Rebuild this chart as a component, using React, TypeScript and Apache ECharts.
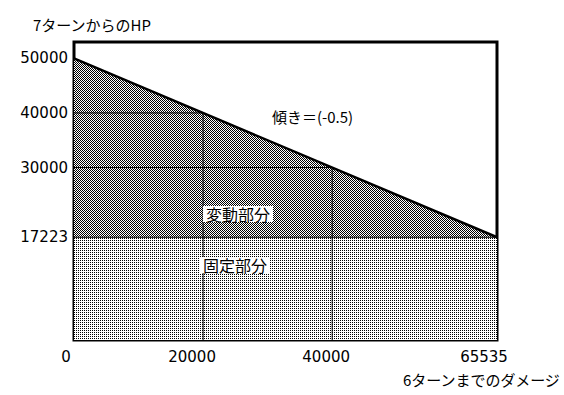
import React, { useEffect, useRef } from "react";
import * as echarts from "echarts";

const xTicks = [0, 20000, 40000, 65535];
const yTicks = [17223, 30000, 40000, 50000];
const hpLine = [
  [0, 50000],
  [65535, 17223],
];
const fixedPart = [
  [0, 17223],
  [65535, 17223],
];
const guide1 = [
  [0, 40000],
  [20000, 40000],
  [20000, -1600],
];
const guide2 = [
  [0, 30000],
  [40000, 30000],
  [40000, -1600],
];
const yMin = -1600;
const yMax = 53000;

function makePattern(dark: boolean) {
  const c = document.createElement("canvas");
  c.width = 2;
  c.height = 2;
  const ctx = c.getContext("2d")!;
  ctx.fillStyle = "#ffffff";
  ctx.fillRect(0, 0, 2, 2);
  ctx.fillStyle = "#000000";
  ctx.fillRect(0, 0, 1, 1);
  if (dark) ctx.fillRect(1, 1, 1, 1);
  return c;
}

export default function App() {
  const ref = useRef<HTMLDivElement>(null);
  useEffect(() => {
    const chart = echarts.init(ref.current!, undefined, { renderer: "svg" });
    const darkPat = { image: makePattern(true), repeat: "repeat" };
    const lightPat = { image: makePattern(false), repeat: "repeat" };
    const num = "DejaVu Sans";
    const jp = "Noto Sans CJK JP";
    const shift: Record<number, number> = { 0: 8, 20000: 11, 40000: 6, 65535: 13 };
    const rich: Record<string, any> = {
      n: { fontFamily: num, fontSize: 15, color: "#000" },
    };
    xTicks.forEach((t, i) => {
      rich[`g${i}`] = { fontFamily: num, fontSize: 15, width: 2 * shift[t] };
    });
    chart.setOption({
      animation: false,
      backgroundColor: "#ffffff",
      title: [
        {
          text: "7ターンからのHP",
          left: 28,
          top: 12,
          textStyle: { fontFamily: jp, fontSize: 15, fontWeight: "normal", color: "#000" },
        },
        {
          text: "6ターンまでのダメージ",
          left: 398,
          top: 367,
          textStyle: { fontFamily: jp, fontSize: 15, fontWeight: "normal", color: "#000" },
        },
      ],
      grid: {
        left: 74,
        top: 42,
        width: 423,
        height: 298,
        show: true,
        borderColor: "#000",
        borderWidth: 3,
        backgroundColor: "transparent",
        containLabel: false,
      },
      xAxis: {
        type: "value",
        min: 0,
        max: 65535,
        splitLine: { show: false },
        axisLine: { show: false },
        axisTick: { show: false },
        axisLabel: {
          customValues: xTicks,
          margin: 9,
          fontFamily: num,
          fontSize: 15,
          color: "#000",
          formatter: (v: number) => `{n|${String(v)}}{g${xTicks.indexOf(v)}| }`,
          rich,
        },
      },
      yAxis: {
        type: "value",
        min: yMin,
        max: yMax,
        splitLine: { show: false },
        axisLine: { show: false },
        axisTick: { show: false },
        axisLabel: {
          customValues: yTicks,
          margin: 6,
          fontFamily: num,
          fontSize: 15,
          color: "#000",
          formatter: (v: number) => String(v),
        },
      },
      series: [
        {
          type: "line",
          data: hpLine,
          symbol: "none",
          z: 1,
          lineStyle: { width: 0 },
          areaStyle: { color: darkPat, opacity: 1, origin: "start" },
        },
        {
          type: "line",
          data: fixedPart,
          symbol: "none",
          z: 2,
          lineStyle: { color: "#000", width: 1 },
          areaStyle: { color: lightPat, opacity: 1, origin: "start" },
        },
        {
          type: "line",
          data: guide1,
          symbol: "none",
          z: 3,
          lineStyle: { color: "#000", width: 1 },
        },
        {
          type: "line",
          data: guide2,
          symbol: "none",
          z: 3,
          lineStyle: { color: "#000", width: 1 },
        },
        {
          type: "line",
          data: hpLine,
          symbol: "none",
          z: 4,
          lineStyle: { color: "#000", width: 2.5 },
        },
      ],
      graphic: [
        {
          type: "text",
          left: 272,
          top: 109,
          z: 10,
          style: { text: "傾き＝(-0.5)", fontFamily: jp, fontSize: 15, fill: "#000" },
        },
        {
          type: "text",
          left: 203,
          top: 206,
          z: 10,
          style: {
            text: "変動部分",
            fontFamily: jp,
            fontSize: 16,
            fill: "#000",
            backgroundColor: "#fff",
            padding: [0, 3, 0, 3],
          },
        },
        {
          type: "text",
          left: 200,
          top: 257,
          z: 10,
          style: {
            text: "固定部分",
            fontFamily: jp,
            fontSize: 16,
            fill: "#000",
            backgroundColor: "#fff",
            padding: [0, 3, 0, 3],
          },
        },
      ],
    });
    return () => chart.dispose();
  }, []);
  return (
    <div
      ref={ref}
      style={{ position: "fixed", left: 0, top: 0, width: 564, height: 395, background: "#fff" }}
    />
  );
}
